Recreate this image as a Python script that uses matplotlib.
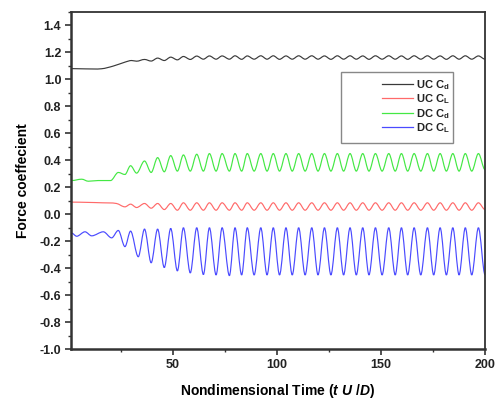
import numpy as np
import matplotlib
matplotlib.use("Agg")
import matplotlib.pyplot as plt
from matplotlib.ticker import MultipleLocator
from matplotlib.path import Path
from matplotlib.patches import PathPatch, Rectangle

plt.rcParams['font.family'] = ['Liberation Sans', 'DejaVu Sans']
plt.rcParams['mathtext.fontset'] = 'custom'
plt.rcParams['mathtext.rm'] = 'Liberation Sans:bold'
plt.rcParams['mathtext.it'] = 'Liberation Sans:italic:bold'
plt.rcParams['mathtext.bf'] = 'Liberation Sans:bold'

# ---- datos (extremos de cada oscilacion) ----
# regimen inicial (transitorio) de cada serie
t_ini_uc_cd = [1.3, 8.0, 15.7, 21.3, 26.9, 30.1, 32.5]
v_ini_uc_cd = [1.08, 1.078, 1.079, 1.099, 1.128, 1.14, 1.135]

t_ini_uc_cl = [1.3, 9.0, 16.0, 22.8, 26.9, 29.6, 32.5]
v_ini_uc_cl = [0.09, 0.088, 0.085, 0.08, 0.055, 0.075, 0.05]

t_ini_dc_cd = [1.3, 6.1, 9.3, 14.0, 20.0, 23.7, 26.9, 29.6, 32.5]
v_ini_dc_cd = [0.25, 0.26, 0.245, 0.25, 0.25, 0.31, 0.295, 0.36, 0.305]

t_ini_dc_cl = [1.3, 3.7, 7.7, 10.9, 16.5, 20.5, 23.7, 26.9, 29.6, 33.3]
v_ini_dc_cl = [-0.14, -0.163, -0.13, -0.16, -0.13, -0.175, -0.12, -0.24, -0.125, -0.315]

# regimen periodico: tiempos de maximos y minimos (comunes)
t_max = [36.3, 42.6, 48.9, 55.0, 61.4, 67.5, 73.6, 79.8, 85.7, 92.2, 98.2, 104.3,
         110.4, 116.7, 122.8, 129.0, 135.1, 141.2, 147.3, 153.7, 159.8, 165.9,
         172.3, 178.4, 184.5, 190.5, 196.8]
t_min = [39.5, 45.8, 52.1, 58.3, 64.6, 70.7, 77.1, 83.0, 89.0, 95.2, 101.2, 107.3,
         113.5, 119.7, 125.9, 132.0, 138.1, 144.2, 150.5, 156.8, 162.8, 169.1,
         175.3, 181.4, 187.5, 193.6, 200.0]

uc_cd_max = [1.148, 1.158, 1.165, 1.17, 1.173, 1.174, 1.174, 1.175, 1.174, 1.175, 1.175, 1.174,
             1.175, 1.175, 1.174, 1.175, 1.175, 1.174, 1.175, 1.175, 1.174, 1.175, 1.175,
             1.174, 1.175, 1.175, 1.174]
uc_cd_min = [1.136, 1.14, 1.145, 1.148, 1.15, 1.15, 1.15, 1.149, 1.15, 1.15, 1.149, 1.15,
             1.15, 1.15, 1.149, 1.15, 1.15, 1.149, 1.15, 1.15, 1.149, 1.15, 1.15,
             1.149, 1.15, 1.15, 1.15]

uc_cl_max = [0.08, 0.08, 0.08, 0.085, 0.085, 0.085, 0.085, 0.085, 0.085, 0.085, 0.085, 0.085,
             0.085, 0.085, 0.085, 0.085, 0.085, 0.085, 0.085, 0.085, 0.085, 0.085, 0.085,
             0.085, 0.085, 0.085, 0.085]
uc_cl_min = [0.045, 0.035, 0.03, 0.03, 0.03, 0.03, 0.03, 0.03, 0.03, 0.03, 0.03, 0.03,
             0.03, 0.03, 0.03, 0.03, 0.03, 0.03, 0.03, 0.03, 0.03, 0.03, 0.03,
             0.03, 0.03, 0.03, 0.035]

dc_cd_max = [0.395, 0.42, 0.435, 0.44, 0.445, 0.45, 0.45, 0.45, 0.45, 0.45, 0.45, 0.45,
             0.45, 0.45, 0.45, 0.45, 0.45, 0.45, 0.45, 0.45, 0.45, 0.45, 0.45,
             0.45, 0.45, 0.45, 0.45]
dc_cd_min = [0.31, 0.315, 0.32, 0.32, 0.32, 0.32, 0.32, 0.32, 0.32, 0.32, 0.32, 0.32,
             0.32, 0.32, 0.32, 0.32, 0.32, 0.32, 0.32, 0.32, 0.32, 0.32, 0.32,
             0.32, 0.32, 0.32, 0.33]

dc_cl_max = [-0.11, -0.11, -0.105, -0.10, -0.10, -0.10, -0.10, -0.10, -0.10, -0.10, -0.10, -0.10,
             -0.10, -0.10, -0.10, -0.10, -0.10, -0.10, -0.10, -0.10, -0.10, -0.10, -0.10,
             -0.10, -0.10, -0.10, -0.10]
dc_cl_min = [-0.36, -0.395, -0.42, -0.435, -0.447, -0.45, -0.455, -0.45, -0.45, -0.45, -0.45, -0.45,
             -0.45, -0.45, -0.45, -0.45, -0.45, -0.45, -0.45, -0.45, -0.45, -0.45, -0.45,
             -0.45, -0.45, -0.45, -0.45]

etiquetas = [r"UC C$_\mathrm{d}$", r"UC C$_\mathrm{L}$", r"DC C$_\mathrm{d}$", r"DC C$_\mathrm{L}$"]
colores = ["#3a3a3a", "#ff6a6a", "#44e844", "#4a4aff"]
yticks = [-1.0, -0.8, -0.6, -0.4, -0.2, 0.0, 0.2, 0.4, 0.6, 0.8, 1.0, 1.2, 1.4]


def serie(t_ini, v_ini, vmax, vmin):
    # une el transitorio con los extremos alternados (max, min, max, ...)
    t = list(t_ini)
    v = list(v_ini)
    for a, b, c, d in zip(t_max, vmax, t_min, vmin):
        t += [a, c]
        v += [b, d]
    return t, v


def camino_suave(t, v):
    # curva Bezier que pasa por los puntos leidos, tangente horizontal en los extremos
    n = len(t)
    m = [0.0] * n
    for i in range(1, n - 1):
        if (v[i] - v[i - 1]) * (v[i + 1] - v[i]) > 0:
            m[i] = (v[i + 1] - v[i - 1]) / (t[i + 1] - t[i - 1])
    verts = [(t[0], v[0])]
    codes = [Path.MOVETO]
    for i in range(n - 1):
        dt = t[i + 1] - t[i]
        verts += [(t[i] + dt / 3, v[i] + m[i] * dt / 3),
                  (t[i + 1] - dt / 3, v[i + 1] - m[i + 1] * dt / 3),
                  (t[i + 1], v[i + 1])]
        codes += [Path.CURVE4] * 3
    return Path(verts, codes)


series = [
    serie(t_ini_uc_cd, v_ini_uc_cd, uc_cd_max, uc_cd_min),
    serie(t_ini_uc_cl, v_ini_uc_cl, uc_cl_max, uc_cl_min),
    serie(t_ini_dc_cd, v_ini_dc_cd, dc_cd_max, dc_cd_min),
    serie(t_ini_dc_cl, v_ini_dc_cl, dc_cl_max, dc_cl_min),
]

fig = plt.figure(figsize=(4.97, 3.99), dpi=100)
ax = fig.add_axes([0.143, 0.125, 0.833, 0.845])

for (t, v), lab, col in zip(series, etiquetas, colores):
    ax.add_patch(PathPatch(camino_suave(t, v), fill=False, edgecolor=col, lw=0.85))
    ax.plot([], [], color=col, lw=0.9, label=lab)

ax.set_xlim(1, 200)
ax.set_ylim(-1.0, 1.5)
ax.xaxis.set_major_locator(MultipleLocator(50))
ax.xaxis.set_minor_locator(MultipleLocator(25))
ax.yaxis.set_minor_locator(MultipleLocator(0.1))
ax.set_yticks(yticks)
ax.set_yticklabels(["%.1f" % y for y in yticks])

for s in ax.spines.values():
    s.set_color("#333333")
    s.set_linewidth(1.3)
ax.spines['left'].set_linewidth(1.8)
ax.spines['bottom'].set_linewidth(1.8)

ax.tick_params(which='major', direction='out', length=4, width=1.2, color="#333333",
               labelsize=9, pad=3)
ax.tick_params(which='minor', direction='out', length=2.5, width=1.0, color="#333333")
for lbl in ax.get_xticklabels() + ax.get_yticklabels():
    lbl.set_fontweight('bold')
    lbl.set_color("#222222")

ax.set_ylabel("Force coeffecient", fontsize=10, fontweight='bold', labelpad=7)
ax.set_xlabel(r"Nondimensional Time ($t\ U\ /D$)", fontsize=10,
              fontweight='bold', labelpad=8)

# caja de la leyenda (mas ancha que su contenido, como en el original)
ax.add_patch(Rectangle((0.652, 0.611), 0.271, 0.211, transform=ax.transAxes,
                       fill=False, edgecolor="#888888", lw=1.0, zorder=4))
leg = ax.legend(loc='upper right', bbox_to_anchor=(0.935, 0.831), fontsize=8,
                frameon=False, handlelength=2.8, handletextpad=0.25,
                borderpad=0.3, labelspacing=0.06)
for txt in leg.get_texts():
    txt.set_fontweight('bold')
    txt.set_color("#222222")

fig.savefig("out.png", dpi=100)
